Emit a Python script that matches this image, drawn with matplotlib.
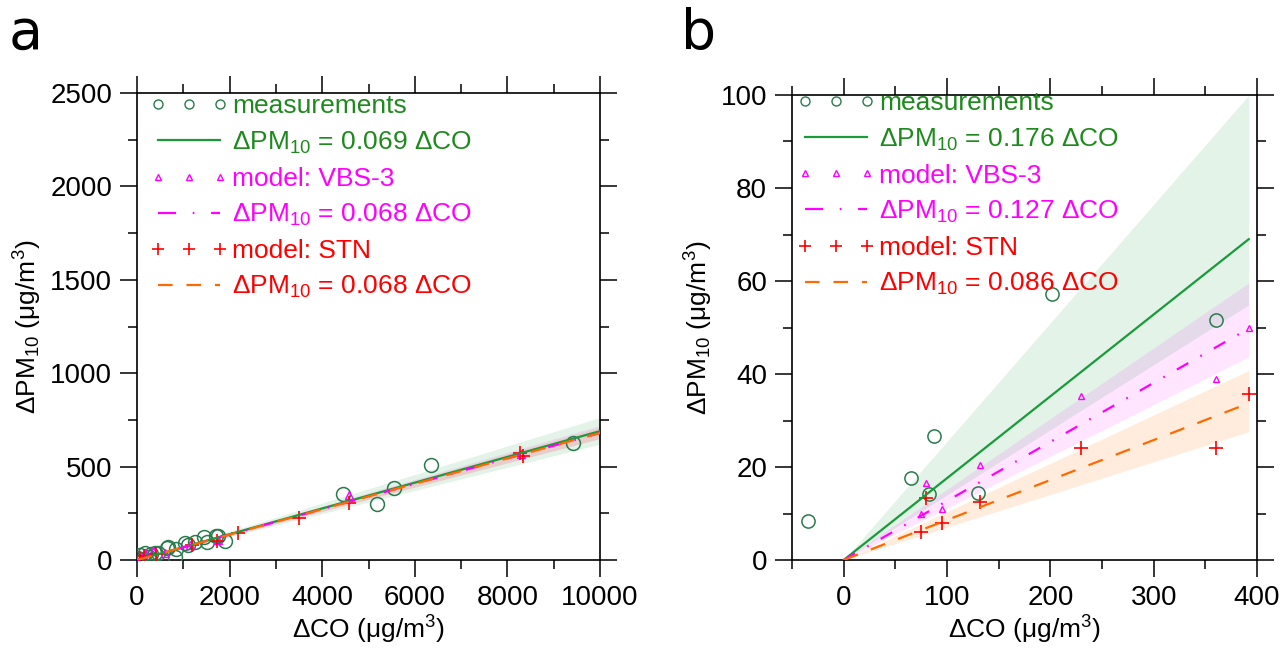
import numpy as np
import matplotlib
matplotlib.use("Agg")
import matplotlib.pyplot as plt
from matplotlib.lines import Line2D
from matplotlib.ticker import MultipleLocator

plt.rcParams['font.family'] = ['Liberation Sans', 'DejaVu Sans']
plt.rcParams['mathtext.fontset'] = 'custom'
plt.rcParams['mathtext.rm'] = 'Liberation Sans'
plt.rcParams['mathtext.default'] = 'regular'
plt.rcParams['lines.scale_dashes'] = False

# ---------------- data: panel a ----------------
a_meas_x = [30, 65, 120, 180, 250, 300, 390, 460, 640, 680, 820, 840, 1040, 1100,
            1250, 1450, 1520, 1700, 1740, 1900, 4440, 5190, 5540, 6360, 9410]
a_meas_y = [10, 27, 0, 39, 15, 30, 36, 40, 63, 68, 18, 57, 89, 80,
            98, 121, 98, 130, 128, 103, 353, 300, 385, 508, 628]
a_vbs_x = [80, 170, 350, 600, 1150, 1760, 4570, 8300]
a_vbs_y = [10, 36, 50, 40, 80, 107, 348, 565]
a_stn_x = [60, 150, 420, 1180, 1730, 2190, 3490, 4570, 8270, 8330]
a_stn_y = [5, 20, 30, 80, 102, 143, 226, 305, 575, 555]
a_slopes = {'meas': 0.069, 'vbs': 0.068, 'stn': 0.068}
a_bands = {'meas': (0.062, 0.0763), 'vbs': (0.065, 0.072), 'stn': (0.065, 0.071)}
a_xmax = 10000

# ---------------- data: panel b ----------------
b_meas_x = [-35, 65, 87, 83, 130, 202, 360]
b_meas_y = [8.4, 17.7, 26.7, 14.1, 14.5, 57.1, 51.6]
b_vbs_x = [80, 75, 95, 132, 230, 360, 392]
b_vbs_y = [16.6, 9.8, 10.9, 20.4, 35.3, 38.9, 50.0]
b_stn_x = [80, 75, 95, 132, 230, 360, 392]
b_stn_y = [13.3, 6.1, 7.9, 12.5, 24.0, 24.0, 35.6]
b_slopes = {'meas': 0.176, 'vbs': 0.127, 'stn': 0.086}
b_bands = {'meas': (0.140, 0.255), 'vbs': (0.1115, 0.152), 'stn': (0.0704, 0.104)}
b_xmax = 392

# ---------------- styles ----------------
C_CIRC = '#2b7a4e'
C_GREEN = '#1a9a3a'
C_TXT_GREEN = '#1e8a1e'
C_MAG = '#ff00ff'
C_RED = '#ff0000'
C_ORANGE = '#ff6a00'
DASH_MAG = (9.5, 10, 1.2, 10)
DASH_OR = (11, 10)

fig = plt.figure(figsize=(12.82, 6.52), dpi=100)
axa = fig.add_axes([137/1282, 1-560/652, 463/1282, 467/652])
axb = fig.add_axes([792/1282, 1-560/652, 465/1282, 465/652])


def draw(ax, mx, my, vx, vy, sx, sy, slopes, bands, xmax, circ_ms, tri_ms, plus_ms):
    xx = np.array([0, xmax])
    ax.fill_between(xx, bands['meas'][0]*xx, bands['meas'][1]*xx,
                    color=(0.0, 0.59, 0.2), alpha=0.11, lw=0, zorder=1)
    ax.fill_between(xx, bands['vbs'][0]*xx, bands['vbs'][1]*xx,
                    color=C_MAG, alpha=0.10, lw=0, zorder=1)
    ax.fill_between(xx, bands['stn'][0]*xx, bands['stn'][1]*xx,
                    color='#ff7f0e', alpha=0.14, lw=0, zorder=1)
    ax.plot(mx, my, ls='', marker='o', ms=circ_ms, mfc='none', mec=C_CIRC, mew=1.1, zorder=3)
    ax.plot(vx, vy, ls='', marker='^', ms=tri_ms, mfc='none', mec=C_MAG, mew=1.0, zorder=3)
    ax.plot(sx, sy, ls='', marker='+', ms=plus_ms, mec=C_RED, mew=1.2, zorder=3)
    ax.plot(xx, slopes['meas']*xx, color=C_GREEN, lw=1.6, zorder=4)
    ax.plot(xx, slopes['vbs']*xx, color=C_MAG, lw=1.6, dashes=DASH_MAG, zorder=4)
    ax.plot(xx, slopes['stn']*xx, color=C_ORANGE, lw=1.6, dashes=DASH_OR, zorder=4)

    handles = [
        Line2D([], [], ls='', marker='o', ms=6.5, mfc='none', mec=C_CIRC, mew=1.0),
        Line2D([], [], color=C_GREEN, lw=1.6),
        Line2D([], [], ls='', marker='^', ms=5, mfc='none', mec=C_MAG, mew=1.0),
        Line2D([], [], color=C_MAG, lw=1.6, dashes=(13, 12, 1.2, 12, 17, 10)),
        Line2D([], [], ls='', marker='+', ms=9, mec=C_RED, mew=1.2),
        Line2D([], [], color=C_ORANGE, lw=1.6, dashes=(10.5, 10)),
    ]
    labels = ['measurements',
              'ΔPM$_{10}$ = %.3f ΔCO' % slopes['meas'],
              'model: VBS-3',
              'ΔPM$_{10}$ = %.3f ΔCO' % slopes['vbs'],
              'model: STN',
              'ΔPM$_{10}$ = %.3f ΔCO' % slopes['stn']]
    return handles, labels


def style(ax, xlim, ylim, xmaj, xmin, ymaj, ymin):
    ax.set_xlim(*xlim)
    ax.set_ylim(*ylim)
    ax.xaxis.set_major_locator(MultipleLocator(xmaj))
    ax.xaxis.set_minor_locator(MultipleLocator(xmin))
    ax.yaxis.set_major_locator(MultipleLocator(ymaj))
    ax.yaxis.set_minor_locator(MultipleLocator(ymin))
    ax.tick_params(which='both', direction='out', top=True, right=True,
                   labeltop=False, labelright=False, width=1.1, labelsize=20, pad=6)
    ax.tick_params(which='major', length=12)
    ax.tick_params(which='minor', length=6.5)
    for s in ax.spines.values():
        s.set_linewidth(1.2)
    ax.set_xlabel('ΔCO (μg/m$^3$)', fontsize=19, labelpad=2)
    ax.set_ylabel('ΔPM$_{10}$ (μg/m$^3$)', fontsize=19, labelpad=4)


def legend(ax, handles, labels, x0, y0):
    leg = ax.legend(handles, labels, loc='upper left', bbox_to_anchor=(x0, y0),
                    frameon=False, fontsize=19, numpoints=3, handlelength=2.95,
                    handletextpad=0.15, labelspacing=0.42, borderpad=0, borderaxespad=0)
    cols = [C_TXT_GREEN, C_TXT_GREEN, C_MAG, C_MAG, C_RED, C_RED]
    for t, c in zip(leg.get_texts(), cols):
        t.set_color(c)
    leg.set_zorder(5)


h, l = draw(axa, a_meas_x, a_meas_y, a_vbs_x, a_vbs_y, a_stn_x, a_stn_y,
            a_slopes, a_bands, a_xmax, 10, 5.5, 10)
style(axa, (0, 10000), (0, 2500), 2000, 1000, 500, 250)
legend(axa, h, l, 0.028, 0.997)

h, l = draw(axb, b_meas_x, b_meas_y, b_vbs_x, b_vbs_y, b_stn_x, b_stn_y,
            b_slopes, b_bands, b_xmax, 9.5, 4.5, 10)
style(axb, (-50, 400), (0, 100), 100, 50, 20, 10)
legend(axb, h, l, 0.011, 1.008)

fig.text(0.007, 0.925, 'a', fontsize=40, family='DejaVu Sans')
fig.text(0.531, 0.925, 'b', fontsize=40, family='DejaVu Sans')

fig.savefig('out.png', dpi=100)
